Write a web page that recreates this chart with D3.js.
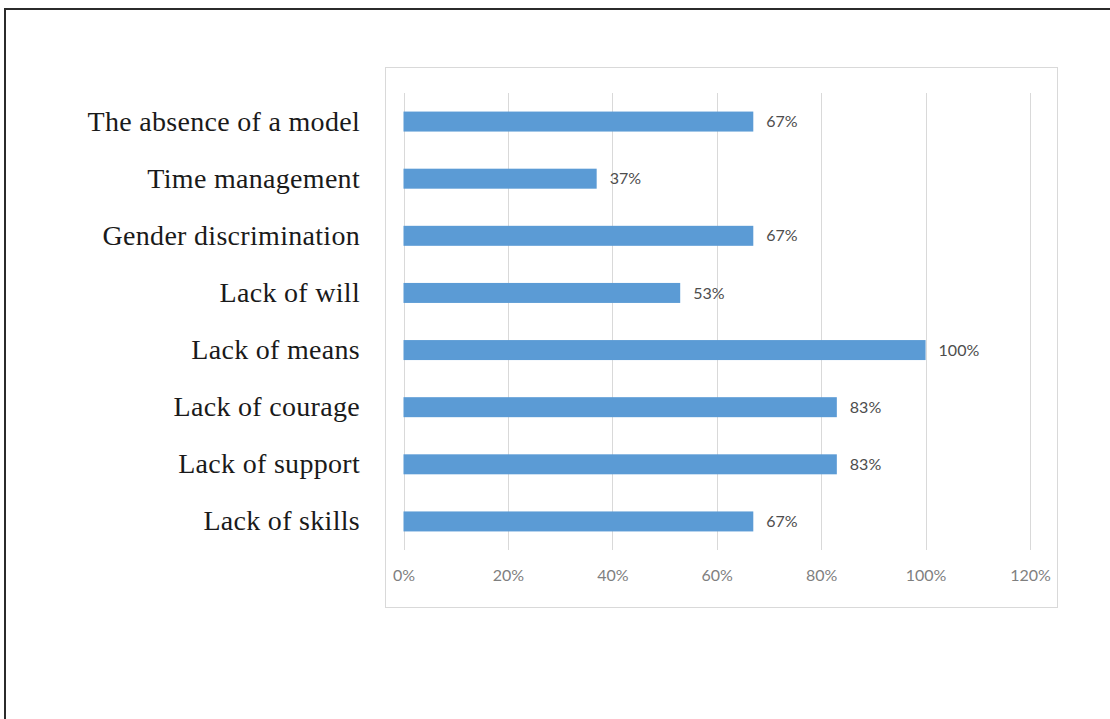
<!DOCTYPE html>
<html>
<head>
<meta charset="utf-8">
<script src="https://cdn.jsdelivr.net/npm/d3@7"></script>
<style>
  body { margin: 0; background: #fff; }
</style>
</head>
<body>
<script>
let categories = ["The absence of a model", "Time management", "Gender discrimination",
    "Lack of will", "Lack of means", "Lack of courage", "Lack of support", "Lack of skills"];
let values = [0.67, 0.37, 0.67, 0.53, 1.00, 0.83, 0.83, 0.67];
let xTicks = [0, 0.2, 0.4, 0.6, 0.8, 1.0, 1.2];

let width = 1110;
let height = 719;

let svg = d3.select("body").append("svg").attr("width", width).attr("height", height);

// outer frame (only left and top edges show)
svg.append("path")
    .attr("d", `M5,${height} V9 H${width}`)
    .attr("fill", "none").attr("stroke", "#2b2b2b").attr("stroke-width", 2);

// chart area box
svg.append("rect")
    .attr("x", 385.5).attr("y", 67.5).attr("width", 672).attr("height", 540)
    .attr("fill", "#fff").attr("stroke", "#d9d9d9").attr("stroke-width", 1);

let x = d3.scaleLinear().domain([0, 1.2]).range([403.5, 1030]);
let y = d3.scaleBand().domain(categories).range([93, 550])
    .paddingInner(0.65).paddingOuter(0.325);

// gridlines
svg.append("g")
    .selectAll("line")
    .data(xTicks)
    .join("line")
    .attr("x1", (d) => Math.round(x(d)) + 0.5)
    .attr("x2", (d) => Math.round(x(d)) + 0.5)
    .attr("y1", 93).attr("y2", 550)
    .attr("stroke", "#d9d9d9").attr("stroke-width", 1);

// x axis labels
let xAxis = d3.axisBottom(x).tickValues(xTicks).tickFormat(d3.format(".0%")).tickSize(0).tickPadding(0);
let xg = svg.append("g").attr("transform", "translate(0,570)").call(xAxis);
xg.select(".domain").remove();
xg.selectAll("text")
    .attr("font-family", "Lato, 'Open Sans', sans-serif")
    .attr("font-size", 16)
    .attr("fill", "#7f7f7f");

// bars
svg.append("g")
    .selectAll("rect")
    .data(values)
    .join("rect")
    .attr("x", x(0))
    .attr("y", (d, i) => y(categories[i]))
    .attr("width", (d) => x(d) - x(0))
    .attr("height", y.bandwidth())
    .attr("fill", "#5b9bd5");

// value labels
svg.append("g")
    .selectAll("text")
    .data(values)
    .join("text")
    .attr("x", (d) => x(d) + 13)
    .attr("y", (d, i) => y(categories[i]) + y.bandwidth() / 2)
    .attr("dy", "0.35em")
    .attr("font-family", "Lato, 'Open Sans', sans-serif")
    .attr("font-size", 16)
    .attr("fill", "#4d4d4d")
    .text((d) => d3.format(".0%")(d));

// category labels
let yAxis = d3.axisLeft(y).tickSize(0).tickPadding(0);
let yg = svg.append("g").attr("transform", "translate(360,0)").call(yAxis);
yg.select(".domain").remove();
yg.selectAll("text")
    .attr("font-family", "'Liberation Serif', 'Times New Roman', serif")
    .attr("font-size", 28)
    .attr("letter-spacing", 0.3)
    .attr("fill", "#1a1a1a");
</script>
</body>
</html>
